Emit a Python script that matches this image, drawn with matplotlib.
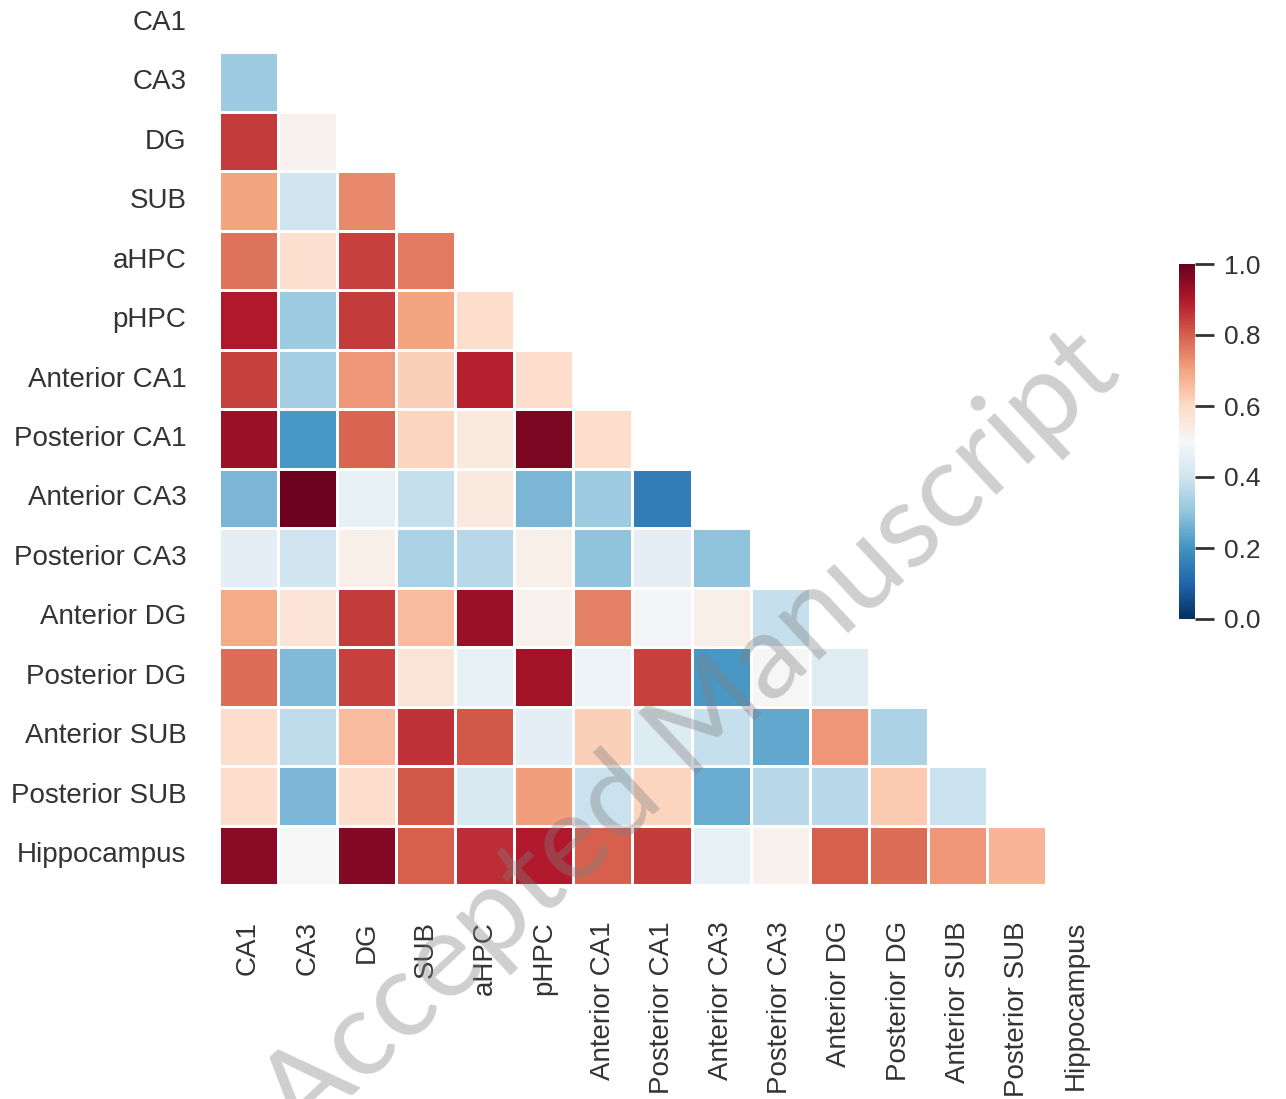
"""Lower-triangle correlation heatmap of hippocampal subfield measures."""

import matplotlib
matplotlib.use('Agg')
import matplotlib.pyplot as plt
import numpy as np
import seaborn as sns

labels = ["CA1", "CA3", "DG", "SUB", "aHPC", "pHPC",
          "Anterior CA1", "Posterior CA1", "Anterior CA3", "Posterior CA3",
          "Anterior DG", "Posterior DG", "Anterior SUB", "Posterior SUB",
          "Hippocampus"]

# lower triangle, row by row (values below the diagonal)
r_ca3 = [0.32]
r_dg = [0.85, 0.52]
r_sub = [0.70, 0.40, 0.74]
r_ahpc = [0.77, 0.58, 0.84, 0.76]
r_phpc = [0.90, 0.32, 0.85, 0.70, 0.59]
r_ant_ca1 = [0.84, 0.33, 0.72, 0.62, 0.89, 0.59]
r_post_ca1 = [0.93, 0.21, 0.79, 0.61, 0.55, 0.97, 0.59]
r_ant_ca3 = [0.27, 0.99, 0.46, 0.38, 0.55, 0.27, 0.32, 0.15]
r_post_ca3 = [0.45, 0.40, 0.53, 0.34, 0.36, 0.53, 0.30, 0.45, 0.30]
r_ant_dg = [0.69, 0.57, 0.85, 0.66, 0.93, 0.52, 0.75, 0.49, 0.53, 0.38]
r_post_dg = [0.78, 0.28, 0.84, 0.57, 0.46, 0.92, 0.47, 0.84, 0.21, 0.50, 0.44]
r_ant_sub = [0.59, 0.37, 0.66, 0.86, 0.81, 0.45, 0.62, 0.43, 0.38, 0.24, 0.72, 0.34]
r_post_sub = [0.59, 0.27, 0.59, 0.81, 0.42, 0.71, 0.39, 0.61, 0.25, 0.36, 0.36, 0.63, 0.39]
r_hippo = [0.95, 0.50, 0.96, 0.80, 0.87, 0.90, 0.80, 0.85, 0.46, 0.52, 0.80, 0.78, 0.72, 0.67]

lower_rows = [[], r_ca3, r_dg, r_sub, r_ahpc, r_phpc, r_ant_ca1, r_post_ca1,
              r_ant_ca3, r_post_ca3, r_ant_dg, r_post_dg, r_ant_sub,
              r_post_sub, r_hippo]

n = len(labels)
corr = np.full((n, n), np.nan)
for i, row in enumerate(lower_rows):
    corr[i, :len(row)] = row
mask = np.triu(np.ones((n, n), dtype=bool))

plt.rcParams['font.family'] = ['Liberation Sans', 'DejaVu Sans']
text_color = "#333333"

W, H = 1286, 1099
fig = plt.figure(figsize=(W / 100, H / 100), dpi=100, facecolor="white")
ax = fig.add_axes([218.5 / W, (H - 885) / H, 887 / W, 892 / H])
cax = fig.add_axes([1179 / W, (H - 619) / H, 16 / W, 355 / H])

sns.heatmap(corr, mask=mask, cmap="RdBu_r", vmin=0, vmax=1,
            linewidths=1, linecolor="white", ax=ax, cbar_ax=cax,
            xticklabels=labels, yticklabels=labels)

ax.tick_params(axis="both", length=0, labelsize=20, colors=text_color)
ax.tick_params(axis="y", pad=23, rotation=0)
ax.tick_params(axis="x", pad=26, rotation=90)

cbar = ax.collections[0].colorbar
cbar.outline.set_visible(False)
cbar.set_ticks([0.0, 0.2, 0.4, 0.6, 0.8, 1.0])
cax.tick_params(length=14, width=2, pad=7, labelsize=19,
                colors=text_color)

# watermark
fig.text(690 / W, 1 - 735 / H, "Accepted Manuscript", fontsize=86,
         family=["Lato", "DejaVu Sans"],
         color="#808080", alpha=0.38,
         rotation=43, ha="center", va="center", rotation_mode="anchor")

plt.savefig("out.png", dpi=100, facecolor="white")
